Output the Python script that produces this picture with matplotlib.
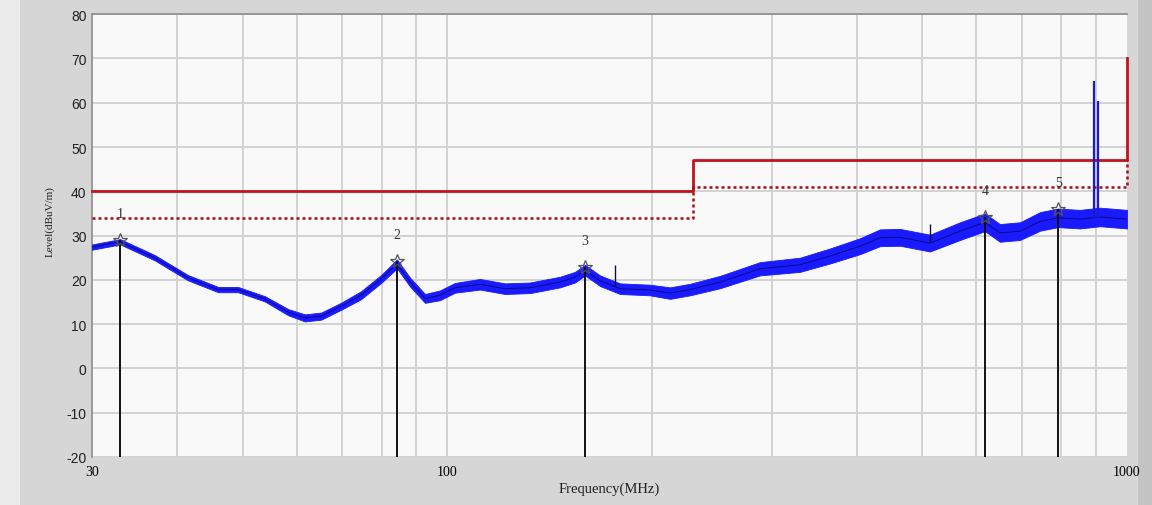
import matplotlib.pyplot as plt
from matplotlib.ticker import FixedLocator, NullFormatter
from matplotlib.patches import Rectangle

freq_mhz = [30, 33.0, 37.1, 41.5, 46.0, 49.2, 53.9, 58.3, 61.7, 65.2, 69.7,
            74.6, 79.9, 84.3, 88.1, 92.7, 97.5, 102.6, 111.7, 121.6, 132.3,
            146.5, 154.1, 159.4, 167.7, 179.5, 198.7, 212.6, 227.5, 251.9,
            288.4, 330.3, 365.8, 404.8, 433.1, 463.5, 513, 568, 618, 650,
            696, 745, 792, 853, 913, 1000]
level_db = [27.4, 28.6, 25.0, 20.5, 17.8, 17.8, 15.7, 12.7, 11.4, 11.8, 14.0,
            16.5, 20.2, 23.6, 19.5, 15.8, 16.5, 18.2, 19.0, 18.0, 18.2,
            19.5, 20.6, 22.2, 19.8, 18.0, 17.7, 17.0, 17.8, 19.5,
            22.5, 23.4, 25.4, 27.6, 29.5, 29.6, 28.3, 31.0, 33.0, 30.6,
            31.0, 33.2, 34.0, 33.7, 34.2, 33.7]
# half-width of the noise band around the trace
spread_db = [0.6, 0.6, 0.6, 0.6, 0.6, 0.6, 0.6, 0.7, 0.8, 0.8, 0.8,
             0.9, 0.9, 1.0, 1.0, 1.0, 1.1, 1.1, 1.2, 1.2, 1.2,
             1.2, 1.2, 1.2, 1.2, 1.2, 1.2, 1.3, 1.3, 1.4,
             1.5, 1.6, 1.7, 1.8, 1.9, 1.9, 1.9, 2.0, 2.0, 2.0,
             2.0, 2.1, 2.1, 2.1, 2.1, 2.1]

# narrow spikes on the trace
spike_freq = [176.5, 513, 894, 906]
spike_base = [18.5, 28.5, 34.0, 34.0]
spike_top = [23.3, 32.6, 65.0, 60.5]

# limit (solid) and margin (dotted) lines
limit_freq = [30, 230, 230, 1000, 1000]
limit_db = [40, 40, 47, 47, 70]
margin_freq = [30, 230, 230, 1000, 1000]
margin_db = [34, 34, 41, 41, 47]

# peak markers
marker_no = ['1', '2', '3', '4', '5']
marker_freq = [33.0, 84.3, 159.4, 618, 792]
marker_db = [29.0, 24.2, 23.0, 34.2, 36.0]

yticks = [-20, -10, 0, 10, 20, 30, 40, 50, 60, 70, 80]
xlabels = [30, 100, 1000]
xgrid = [40, 50, 60, 70, 80, 90, 100, 200, 300, 400, 500, 600, 700, 800, 900]

fig = plt.figure(figsize=(11.52, 5.06), dpi=100, facecolor='#d6d6d6')
fig.patches.append(Rectangle((0, 0), 0.017, 1, transform=fig.transFigure,
                             facecolor='#ebebeb', edgecolor='none', zorder=-1))
fig.patches.append(Rectangle((0.988, 0), 0.012, 1, transform=fig.transFigure,
                             facecolor='#c4c4c4', edgecolor='none', zorder=-1))
ax = fig.add_axes([0.0799, 0.095, 0.8984, 0.875])
ax.set_facecolor('#f9f9f9')

ax.set_xscale('log')
ax.set_xlim(30, 1000)
ax.set_ylim(-20, 80)

ax.xaxis.set_major_locator(FixedLocator(xlabels))
ax.xaxis.set_minor_locator(FixedLocator(xgrid))
ax.xaxis.set_minor_formatter(NullFormatter())
ax.set_xticklabels([str(v) for v in xlabels], family='Liberation Serif', fontsize=10)
ax.set_yticks(yticks)
ax.set_yticklabels([str(v) for v in yticks], family='Liberation Sans', fontsize=10,
                   color='#202020')
ax.tick_params(which='both', length=0, pad=4)
ax.tick_params(axis='x', pad=6)

for f in xgrid:
    ax.axvline(f, color='#d2d2d2', lw=1.4, zorder=0)
for v in yticks:
    ax.axhline(v, color='#d2d2d2', lw=1.4, zorder=0)

for side in ['top', 'left']:
    ax.spines[side].set_color('#8c8c8c')
    ax.spines[side].set_linewidth(1.2)
for side in ['right', 'bottom']:
    ax.spines[side].set_visible(False)

# limit lines
ax.plot(limit_freq, limit_db, color='#c0141c', lw=2.0, zorder=3, clip_on=False)
ax.plot(margin_freq, margin_db, color='#a01018', lw=1.8, ls=(0, (1.2, 1.2)),
        zorder=3, clip_on=False)

# trace
lower = [l - s for l, s in zip(level_db, spread_db)]
upper = [l + s for l, s in zip(level_db, spread_db)]
ax.fill_between(freq_mhz, lower, upper, color='#1a1aff', lw=0.6, zorder=4)
ax.plot(freq_mhz, level_db, color='#0a0a80', lw=0.7, zorder=5)
ax.vlines(spike_freq[:2], spike_base[:2], spike_top[:2], color='#101040', lw=1.0, zorder=5)
ax.vlines(spike_freq[2:], spike_base[2:], spike_top[2:], color='#1a1acc', lw=1.6, zorder=5)

# markers
ax.vlines(marker_freq, -20, marker_db, color='#111111', lw=1.4, zorder=6)
ax.plot(marker_freq, marker_db, ls='none', marker='*', ms=10, mfc='none',
        mec='#555555', mew=0.9, zorder=7)
for n, f, v in zip(marker_no, marker_freq, marker_db):
    ax.annotate(n, (f, v), xytext=(0, 19), textcoords='offset points',
                ha='center', va='center', fontsize=10,
                family='Liberation Serif', color='#333333')

ax.set_xlabel('Frequency(MHz)', family='Liberation Serif', fontsize=10.5,
              labelpad=2, color='#202020')
ax.set_ylabel('Level(dBuV/m)', family='Liberation Serif', fontsize=8,
              color='#202020')
ax.yaxis.set_label_coords(-0.036, 0.533)

fig.savefig('out.png', dpi=100, facecolor=fig.get_facecolor())
